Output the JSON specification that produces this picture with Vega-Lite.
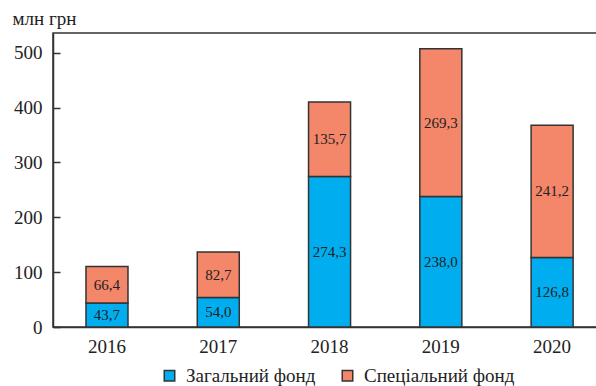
{
  "$schema": "https://vega.github.io/schema/vega-lite/v6.json",
  "width": 545,
  "height": 294,
  "autosize": {"type": "none"},
  "padding": {"left": 53, "top": 33, "right": 0, "bottom": 59},
  "config": {
    "locale": {"number": {"decimal": ",", "thousands": " ", "grouping": [3], "currency": ["", ""]}},
    "font": "Liberation Serif",
    "view": {"stroke": "#333", "strokeWidth": 1.5},
    "style": {
      "guide-label": {"font": "Liberation Serif", "fontSize": 19, "fill": "#222"},
      "guide-title": {"font": "Liberation Serif", "fontSize": 19, "fill": "#222", "fontWeight": "normal"}
    },
    "axis": {"labelFont": "Liberation Serif", "labelColor": "#222", "domainColor": "#333", "domainWidth": 1.5, "grid": false}
  },
  "data": {
    "values": [
      {"year": "2016", "fund": "Загальний фонд", "value": 43.7, "ord": 1},
      {"year": "2016", "fund": "Спеціальний фонд", "value": 66.4, "ord": 2},
      {"year": "2017", "fund": "Загальний фонд", "value": 54.0, "ord": 1},
      {"year": "2017", "fund": "Спеціальний фонд", "value": 82.7, "ord": 2},
      {"year": "2018", "fund": "Загальний фонд", "value": 274.3, "ord": 1},
      {"year": "2018", "fund": "Спеціальний фонд", "value": 135.7, "ord": 2},
      {"year": "2019", "fund": "Загальний фонд", "value": 238.0, "ord": 1},
      {"year": "2019", "fund": "Спеціальний фонд", "value": 269.3, "ord": 2},
      {"year": "2020", "fund": "Загальний фонд", "value": 126.8, "ord": 1},
      {"year": "2020", "fund": "Спеціальний фонд", "value": 241.2, "ord": 2}
    ]
  },
  "encoding": {
    "x": {
      "field": "year", "type": "nominal",
      "scale": {"paddingInner": 0.6225, "paddingOuter": 0.26, "align": 0.57},
      "axis": {"title": null, "labelAngle": 0, "ticks": false, "labelFont": "Liberation Serif", "labelFontSize": 19, "labelPadding": 10, "labelColor": "#222"}
    },
    "y": {
      "field": "value", "type": "quantitative", "stack": "zero",
      "scale": {"domain": [0, 536], "nice": false},
      "axis": {
        "values": [0, 100, 200, 300, 400, 500],
        "tickSize": -7, "tickColor": "#333", "tickWidth": 1.5,
        "labelFont": "Liberation Serif", "labelFontSize": 19, "labelPadding": 18, "labelColor": "#222",
        "title": "млн грн", "titleAngle": 0, "titleFont": "Liberation Serif", "titleFontSize": 19,
        "titleFontWeight": "normal", "titleColor": "#222",
        "titleAlign": "left", "titleBaseline": "alphabetic", "titleX": -41, "titleY": -9
      }
    },
    "order": {"field": "ord", "type": "quantitative"}
  },
  "layer": [
    {
      "mark": {"type": "bar", "stroke": "#333", "strokeWidth": 1.5},
      "encoding": {
        "color": {
          "field": "fund", "type": "nominal",
          "scale": {"domain": ["Загальний фонд", "Спеціальний фонд"], "range": ["#00AEEF", "#F4866A"]},
          "legend": {
            "title": null, "orient": "none", "direction": "horizontal",
            "legendX": 107, "legendY": 333,
            "symbolType": "square", "symbolSize": 110, "symbolStrokeColor": "#333", "symbolStrokeWidth": 1.5,
            "symbolOpacity": 1,
            "labelFont": "Liberation Serif", "labelFontSize": 19, "labelColor": "#222",
            "columnPadding": 22, "labelOffset": 7
          }
        }
      }
    },
    {
      "mark": {"type": "text", "fontSize": 15, "color": "#222", "font": "Liberation Serif"},
      "encoding": {
        "y": {"field": "value", "type": "quantitative", "stack": "zero", "bandPosition": 0.5},
        "text": {"field": "value", "type": "quantitative", "format": ".1f"}
      }
    }
  ]
}
